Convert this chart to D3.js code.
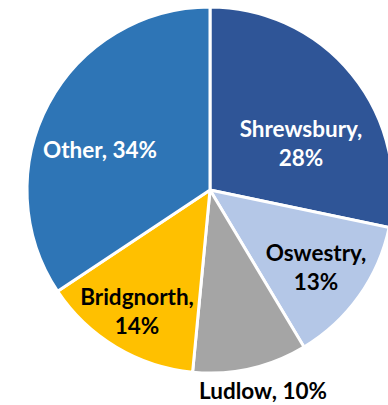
<!DOCTYPE html>
<html>
<head>
<meta charset="utf-8">
<script src="https://cdn.jsdelivr.net/npm/d3@7"></script>
<style>
  body { margin: 0; background: #fff; }
  svg text { font-family: Lato, "Open Sans", sans-serif; font-weight: bold; }
</style>
</head>
<body>
<svg id="chart" width="388" height="405"></svg>
<script>
// slices, clockwise from 12 o'clock
var towns = ["Shrewsbury", "Oswestry", "Ludlow", "Bridgnorth", "Other"];
var shares = [28, 13, 10, 14, 34];
var colours = ["#2F5597", "#B4C7E7", "#A5A5A5", "#FFC000", "#2E75B6"];
var textColours = ["#fff", "#000", "#000", "#000", "#fff"];

// label lines and where they sit, relative to the pie centre
var labelLines = [
  ["Shrewsbury,", "28%"],
  ["Oswestry,", "13%"],
  ["Ludlow, 10%"],
  ["Bridgnorth,", "14%"],
  ["Other, 34%"]
];
var labelPos = [[91, -46], [106, 78], [53, 201], [-73, 122], [-110, -40]];

var cx = 210, cy = 190, radius = 183;

var svg = d3.select("#chart");
var g = svg.append("g").attr("transform", "translate(" + cx + "," + cy + ")");

var data = towns.map(function(t, i) { return { town: t, share: shares[i], i: i }; });

var pie = d3.pie().sort(null).value(function(d) { return d.share; });
var arc = d3.arc().innerRadius(0).outerRadius(radius);

g.selectAll("path.slice")
  .data(pie(data))
  .enter().append("path")
  .attr("class", "slice")
  .attr("d", arc)
  .attr("fill", function(d) { return colours[d.data.i]; })
  .attr("stroke", "#fff")
  .attr("stroke-width", 3)
  .attr("stroke-linejoin", "round");

var lineH = 29;
var labels = g.selectAll("text.lbl")
  .data(data)
  .enter().append("text")
  .attr("class", "lbl")
  .attr("text-anchor", "middle")
  .attr("font-size", 22.5)
  .attr("fill", function(d) { return textColours[d.i]; })
  .attr("transform", function(d) {
    var p = labelPos[d.i];
    return "translate(" + p[0] + "," + p[1] + ")";
  });

labels.each(function(d) {
  var lines = labelLines[d.i];
  var el = d3.select(this);
  var top = -(lines.length - 1) * lineH / 2;
  lines.forEach(function(l, k) {
    el.append("tspan").attr("x", 0).attr("y", top + k * lineH).attr("dy", "0.35em").text(l);
  });
});
</script>
</body>
</html>
